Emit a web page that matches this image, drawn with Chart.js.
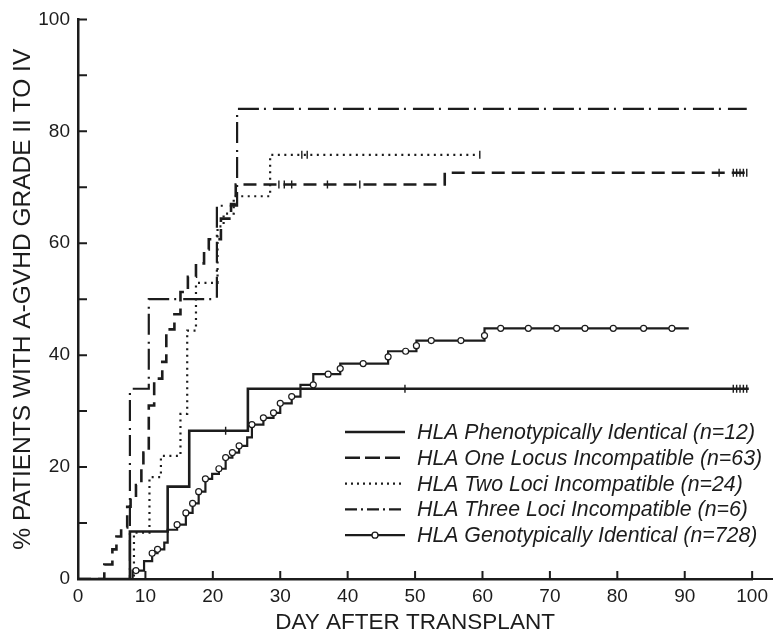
<!DOCTYPE html>
<html>
<head>
<meta charset="utf-8">
<title>Acute GVHD by HLA match</title>
<script src="https://cdn.jsdelivr.net/npm/chart.js@4.4.1/dist/chart.umd.min.js"></script>
<style>
  html, body { margin: 0; padding: 0; background: #fff; }
  #wrap { width: 774px; height: 634px; }
</style>
</head>
<body>
<div id="wrap"><canvas id="gvhdChart" width="774" height="634"></canvas></div>
<script>
// Kaplan-Meier style steps: each point = day the curve jumps to that % value
const seriesLabels = [
  'HLA Phenotypically Identical (n=12)',
  'HLA One Locus Incompatible (n=63)',
  'HLA Two Loci Incompatible (n=24)',
  'HLA Three Loci Incompatible (n=6)',
  'HLA Genotypically Identical (n=728)'
];

const phenoDays = [0, 7.7, 13.3, 16.5, 25.2, 99.5];
const phenoPct  = [0, 8.5, 16.5, 26.5, 34.0, 34.0];

const oneLocusDays = [0, 3.9, 5.1, 5.7, 6.4, 7.3, 7.8, 8.6, 9.4, 9.7, 10.5, 11.3, 12.5, 13.1, 14.3, 15.2, 16.3, 17.5, 18.7, 19.4, 21.2, 22.7, 23.4, 54.4, 99.2];
const oneLocusPct  = [0, 2.6, 5.3, 7.6, 9.2, 12.9, 14.6, 16.8, 19.9, 22.6, 31.0, 35.8, 38.8, 44.6, 47.3, 51.3, 54.0, 56.4, 58.9, 60.7, 64.4, 67.0, 70.5, 72.6, 72.6];

const twoLociDays = [0, 8.3, 10.6, 12.3, 15.2, 16.2, 17.5, 20.7, 21.6, 23.1, 28.5, 59.6];
const twoLociPct  = [0, 8.3, 18.2, 22.0, 29.5, 44.4, 52.9, 63.0, 65.3, 68.4, 75.8, 75.8];

const threeLociDays = [0, 7.7, 10.5, 20.6, 23.6, 99.2];
const threeLociPct  = [0, 34.0, 50.0, 66.7, 84.0, 84.0];

const genoDays = [0, 8.1, 9.8, 11.0, 11.8, 12.8, 13.3, 14.7, 16.0, 17.0, 17.9, 18.9, 19.9, 20.9, 21.9, 22.9, 23.9, 25.1, 25.8, 27.5, 29.0, 30.0, 31.7, 33.0, 34.9, 38.9, 46.0, 50.2, 60.3, 90.6];
const genoPct  = [0, 1.5, 3.2, 4.6, 5.3, 6.5, 8.8, 9.7, 11.8, 13.5, 15.6, 17.9, 18.8, 19.7, 21.7, 22.6, 23.8, 25.3, 27.6, 28.8, 29.7, 31.4, 32.6, 34.7, 36.6, 38.5, 40.7, 42.6, 44.8, 44.8];

// open circles drawn along the genotypically identical curve
const genoMarkDays = [8.6, 11.0, 11.8, 14.7, 16.0, 17.0, 17.9, 18.9, 20.9, 21.9, 22.9, 23.9, 25.8, 27.5, 29.0, 30.0, 31.7, 34.9, 37.1, 38.9, 42.3, 46.0, 48.6, 50.2, 52.4, 56.8, 60.3, 62.7, 66.8, 71.0, 75.2, 79.4, 83.9, 88.1];
const genoMarkPct  = [1.5, 4.6, 5.3, 9.7, 11.8, 13.5, 15.6, 17.9, 19.7, 21.7, 22.6, 23.8, 27.6, 28.8, 29.7, 31.4, 32.6, 34.7, 36.6, 37.6, 38.5, 39.7, 40.7, 41.7, 42.6, 42.6, 43.5, 44.8, 44.8, 44.8, 44.8, 44.8, 44.8, 44.8];

// censoring ticks
const censorDays = [21.9, 48.5, 97.2, 97.7, 98.2, 98.7, 99.2, 29.8, 30.6, 31.7, 37.0, 41.8, 95.1, 97.2, 97.7, 98.2, 98.7, 99.2, 33.2, 34.0, 59.6];
const censorPct  = [26.5, 34.0, 34.0, 34.0, 34.0, 34.0, 34.0, 70.5, 70.5, 70.5, 70.5, 70.5, 72.6, 72.6, 72.6, 72.6, 72.6, 72.6, 75.8, 75.8, 75.8];

const xTicks = [0, 10, 20, 30, 40, 50, 60, 70, 80, 90, 100];
const yTicks = [0, 20, 40, 60, 80, 100];

const INK = '#1c1c1c';
const FONT = '"Liberation Sans", Arial, Helvetica, sans-serif';
Chart.defaults.font.family = FONT;
Chart.defaults.color = INK;

const toPoints = (xs, ys) => xs.map((d, i) => ({ x: d, y: ys[i] }));

const stepLine = (label, xs, ys, dash, width) => ({
  type: 'line',
  label: label,
  data: toPoints(xs, ys),
  stepped: 'before',
  borderColor: INK,
  borderWidth: width,
  borderDash: dash,
  borderCapStyle: 'butt',
  pointRadius: 0,
  fill: false,
  order: 2
});

// inward tick marks + axis extension like the printed figure
const inwardTicks = {
  id: 'inwardTicks',
  afterDraw(chart) {
    const { ctx, chartArea, scales } = chart;
    ctx.save();
    ctx.strokeStyle = INK;
    ctx.lineWidth = 2;
    ctx.beginPath();
    scales.x.ticks.forEach(t => {
      const px = scales.x.getPixelForValue(t.value);
      ctx.moveTo(px, chartArea.bottom);
      ctx.lineTo(px, chartArea.bottom - 8);
    });
    scales.y.ticks.forEach(t => {
      const py = scales.y.getPixelForValue(t.value);
      ctx.moveTo(chartArea.left, py);
      ctx.lineTo(chartArea.left + 9, py);
    });
    ctx.moveTo(chartArea.right, chartArea.bottom);
    ctx.lineTo(chart.width - 1, chartArea.bottom);
    ctx.stroke();
    ctx.restore();
  }
};

// legend with line samples (dash patterns) in the lower right
const sampleLegend = {
  id: 'sampleLegend',
  afterDraw(chart) {
    const { ctx } = chart;
    const x0 = 345, x1 = 405, textX = 417, top = 432, rowH = 25.8;
    ctx.save();
    ctx.font = 'italic 21.3px ' + FONT;
    ctx.textBaseline = 'middle';
    ctx.fillStyle = INK;
    seriesLabels.forEach((label, i) => {
      const ds = chart.data.datasets[i];
      const y = top + i * rowH;
      ctx.strokeStyle = INK;
      ctx.lineWidth = ds.borderWidth;
      ctx.lineCap = 'butt';
      ctx.setLineDash(ds.legendDash || ds.borderDash || []);
      ctx.beginPath();
      ctx.moveTo(x0, y);
      ctx.lineTo(x1, y);
      ctx.stroke();
      ctx.setLineDash([]);
      if (i === 4) {
        ctx.beginPath();
        ctx.arc((x0 + x1) / 2, y, 3, 0, Math.PI * 2);
        ctx.fillStyle = '#fff';
        ctx.fill();
        ctx.lineWidth = 1.3;
        ctx.stroke();
        ctx.fillStyle = INK;
      }
      ctx.fillText(label, textX, y + 1);
    });
    ctx.restore();
  }
};

const datasets = [
  stepLine(seriesLabels[0], phenoDays, phenoPct, [], 2.6),
  stepLine(seriesLabels[1], oneLocusDays, oneLocusPct, [13, 7], 2.6),
  stepLine(seriesLabels[2], twoLociDays, twoLociPct, [2, 4.5], 2.2),
  stepLine(seriesLabels[3], threeLociDays, threeLociPct, [21, 5, 2, 7], 2.2),
  stepLine(seriesLabels[4], genoDays, genoPct, [], 2.2),
  {
    type: 'scatter',
    label: 'geno markers',
    data: toPoints(genoMarkDays, genoMarkPct),
    pointRadius: 3,
    pointBackgroundColor: '#fff',
    pointBorderColor: INK,
    pointBorderWidth: 1.2,
    order: 1
  },
  {
    type: 'scatter',
    label: 'censored',
    data: toPoints(censorDays, censorPct),
    pointStyle: 'line',
    rotation: 90,
    pointRadius: 4,
    pointBorderColor: INK,
    pointBorderWidth: 1.4,
    order: 1
  }
];
datasets[1].legendDash = [15, 5];
datasets[2].legendDash = [2, 4];
datasets[3].legendDash = [12, 4, 2, 4];

new Chart(document.getElementById('gvhdChart'), {
  type: 'line',
  data: { datasets: datasets },
  options: {
    responsive: false,
    animation: false,
    devicePixelRatio: 1,
    layout: { padding: { top: 13, right: 19, left: 0, bottom: 0 } },
    plugins: {
      legend: { display: false },
      tooltip: { enabled: false }
    },
    scales: {
      x: {
        type: 'linear',
        min: 0,
        max: 100,
        afterFit: s => { s.height = 55; },
        afterBuildTicks: s => { s.ticks = xTicks.map(v => ({ value: v })); },
        ticks: { font: { size: 19 }, color: INK, padding: 6, maxRotation: 0 },
        grid: { drawOnChartArea: false, drawTicks: false },
        border: { color: INK, width: 2.5 },
        title: {
          display: true,
          text: 'DAY AFTER TRANSPLANT',
          font: { size: 22.5, lineHeight: 1 },
          color: INK,
          padding: { top: 0, bottom: 0 }
        }
      },
      y: {
        type: 'linear',
        min: 0,
        max: 100,
        afterFit: s => { s.width = 78; },
        afterBuildTicks: s => {
          const all = [];
          for (let v = 0; v <= 100; v += 10) all.push({ value: v });
          s.ticks = all;
        },
        ticks: {
          font: { size: 19 },
          color: INK,
          padding: 8,
          callback: v => (yTicks.includes(v) ? String(v) : '')
        },
        grid: { drawOnChartArea: false, drawTicks: false },
        border: { color: INK, width: 2.5 },
        title: {
          display: true,
          text: '% PATIENTS WITH A-GVHD GRADE II TO IV',
          font: { size: 24.5, lineHeight: 1 },
          color: INK,
          padding: { top: 11, bottom: 0 }
        }
      }
    }
  },
  plugins: [inwardTicks, sampleLegend]
});
</script>
</body>
</html>
